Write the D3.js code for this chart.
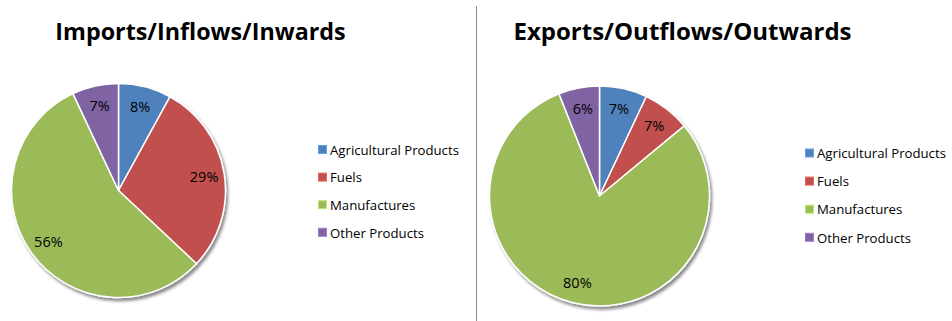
<!DOCTYPE html>
<html>
<head>
<meta charset="utf-8">
<script src="https://cdn.jsdelivr.net/npm/d3@7/dist/d3.min.js"></script>
<style>
  html, body { margin: 0; padding: 0; background: #fff; }
  svg { display: block; }
  text { font-family: "Open Sans", "Lato", sans-serif; fill: #000; }
</style>
</head>
<body>
<svg id="chart" width="952" height="321"></svg>
<script>
// Product categories shared by both pies
const categories = ["Agricultural Products", "Fuels", "Manufactures", "Other Products"];
const colors = ["#4F81BD", "#C0504D", "#9BBB59", "#8064A2"];

// Percentage shares
const importShares = [8, 29, 56, 7];
const exportShares = [7, 7, 80, 6];

const titles = ["Imports/Inflows/Inwards", "Exports/Outflows/Outwards"];

const svg = d3.select("#chart");

// soft drop shadow under each pie
const defs = svg.append("defs");
const f = defs.append("filter").attr("id", "pieShadow")
  .attr("x", "-10%").attr("y", "-10%").attr("width", "125%").attr("height", "125%");
f.append("feDropShadow").attr("dx", 2).attr("dy", 3).attr("stdDeviation", 1.6)
  .attr("flood-color", "#000").attr("flood-opacity", 0.45);

// divider between the two panels
svg.append("line")
  .attr("x1", 476.5).attr("x2", 476.5).attr("y1", 6).attr("y2", 321)
  .attr("stroke", "#8c8c8c").attr("stroke-width", 1);

const panels = [
  { title: titles[0], values: importShares, cx: 118.5, cy: 190.5, r: 107,
    titleX: 200.5, titleSize: 23.3, legendX: 318, legendY: 150, legendGap: 27.6, fs: 13.2 },
  { title: titles[1], values: exportShares, cx: 599.5, cy: 196, r: 110,
    titleX: 682.5, titleSize: 24, legendX: 805, legendY: 153.5, legendGap: 28.1, fs: 13.2 }
];

const pie = d3.pie().sort(null).value(d => d);
const color = d3.scaleOrdinal().domain(categories).range(colors);

panels.forEach(p => {
  // title
  svg.append("text")
    .attr("x", p.titleX).attr("y", 40)
    .attr("text-anchor", "middle")
    .attr("font-weight", 700)
    .attr("font-size", p.titleSize)
    .text(p.title);

  const g = svg.append("g").attr("transform", `translate(${p.cx},${p.cy})`);
  const arcs = pie(p.values);
  const arc = d3.arc().innerRadius(0).outerRadius(p.r);
  const labelArc = d3.arc().innerRadius(p.r * 0.81).outerRadius(p.r * 0.81);

  g.append("g").attr("filter", "url(#pieShadow)")
    .selectAll("path").data(arcs).join("path")
    .attr("d", arc)
    .attr("fill", (d, i) => color(categories[i]))
    .attr("stroke", "#fff").attr("stroke-width", 1.5)
    .attr("stroke-linejoin", "round");

  g.selectAll("text.pct").data(arcs).join("text")
    .attr("class", "pct")
    .attr("transform", d => `translate(${labelArc.centroid(d)})`)
    .attr("text-anchor", "middle")
    .attr("dy", "0.36em")
    .attr("font-size", 14.5)
    .text(d => d.data + "%");

  // legend
  const lg = svg.append("g");
  categories.forEach((c, i) => {
    const y = p.legendY + i * p.legendGap;
    lg.append("rect")
      .attr("x", p.legendX + 0.5).attr("y", y - 4.5)
      .attr("width", 8).attr("height", 8)
      .attr("fill", color(c))
      .attr("stroke", d3.color(color(c)).brighter(0.6)).attr("stroke-width", 1);
    lg.append("text")
      .attr("x", p.legendX + 12).attr("y", y)
      .attr("dy", "0.36em")
      .attr("font-size", p.fs)
      .text(c);
  });
});
</script>
</body>
</html>
